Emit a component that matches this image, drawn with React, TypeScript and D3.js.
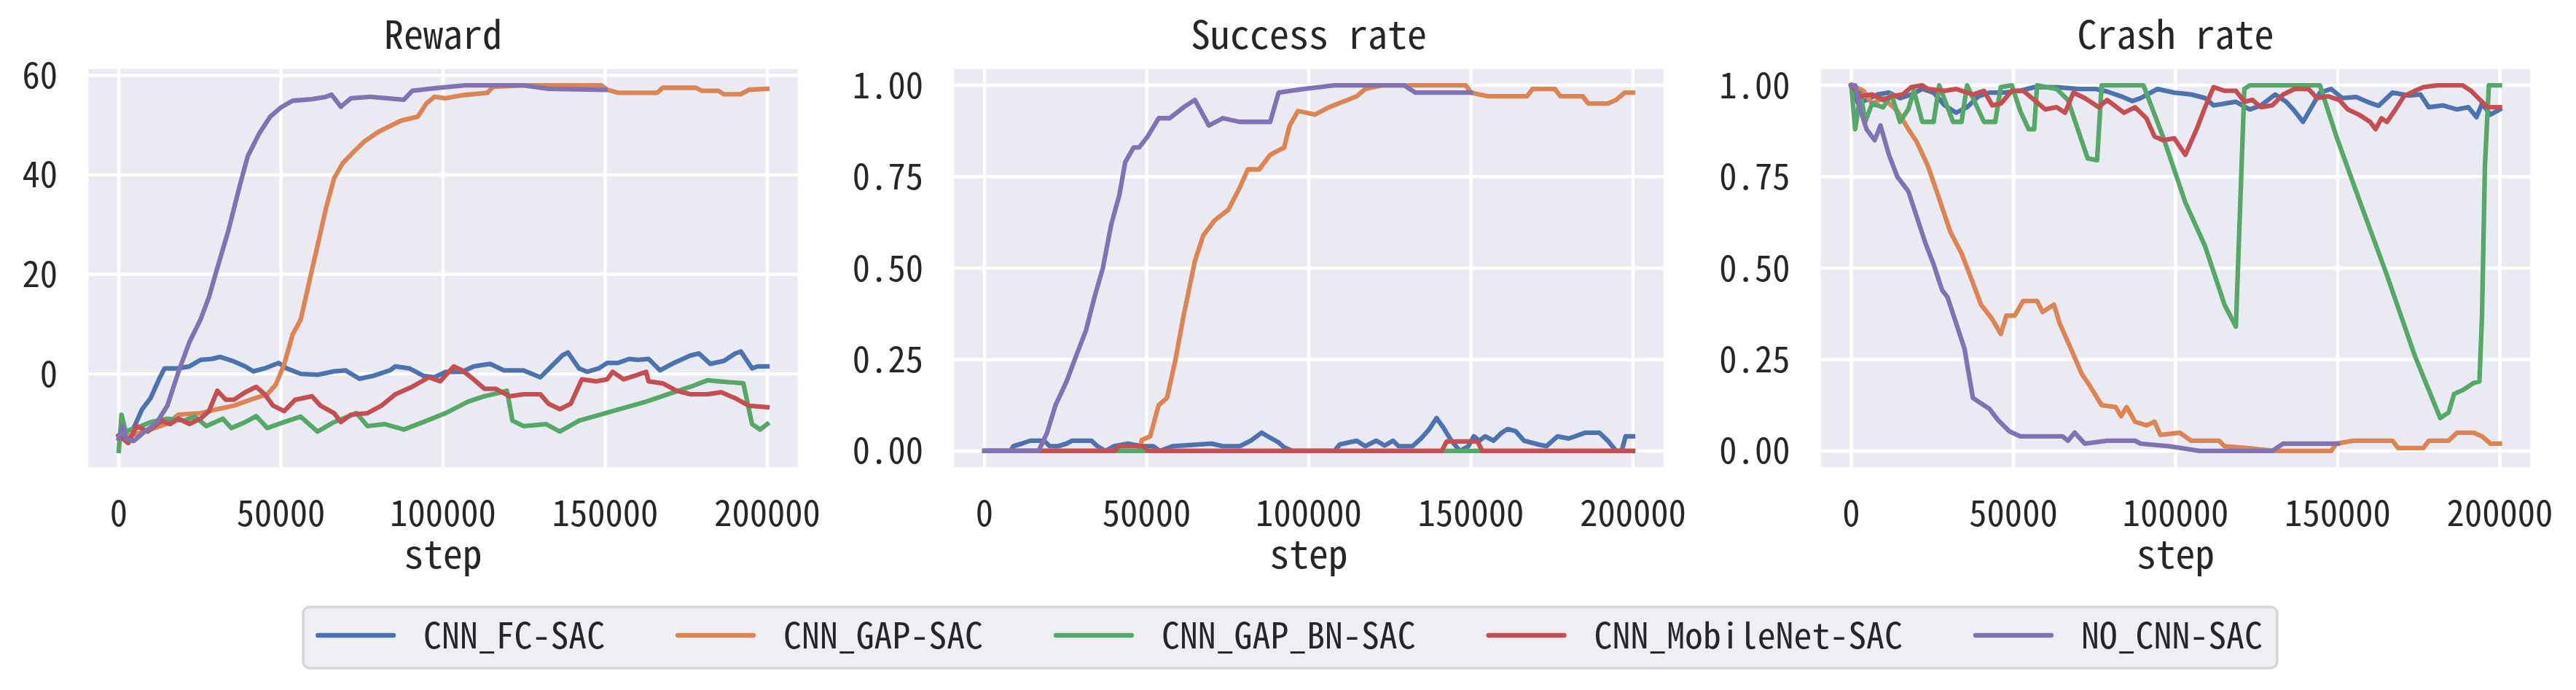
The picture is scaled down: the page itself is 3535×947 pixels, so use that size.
import * as d3 from 'd3'

type Pt = [number, number]

const SERIES = ['CNN_FC-SAC', 'CNN_GAP-SAC', 'CNN_GAP_BN-SAC', 'CNN_MobileNet-SAC', 'NO_CNN-SAC']
const COLORS = ['#4C72B0', '#DD8452', '#55A868', '#C44E52', '#8172B3']

const STEP_TICKS = [0, 50000, 100000, 150000, 200000]
const REWARD_TICKS = [0, 20, 40, 60]
const RATE_TICKS = [0, 0.25, 0.5, 0.75, 1]
const TITLES = ['Reward', 'Success rate', 'Crash rate']

// ---- Reward ----
const rewardFC: Pt[] = [[0, -12.4], [4600, -10.9], [7200, -7.1], [9800, -4.9], [12400, -1.1], [14100, 1.1], [18400, 1.1], [21800, 1.5], [25200, 2.8], [28700, 3.0], [31200, 3.4], [35500, 2.5], [39000, 1.5], [41500, 0.5], [45000, 1.1], [49300, 2.2], [51800, 1.1], [56100, 0], [61300, -0.2], [66400, 0.5], [69900, 0.7], [74200, -1.0], [78500, -0.4], [83600, 0.7], [85300, 1.5], [89600, 1.1], [93900, -0.4], [97300, -0.7], [100800, 0.4], [105900, 0.4], [109400, 1.5], [114500, 2.0], [118800, 0.7], [124800, 0.7], [130000, -0.7], [133400, 1.5], [136800, 3.7], [138500, 4.3], [141900, 1.1], [144500, 0.4], [148000, 1.1], [150600, 2.2], [154000, 2.2], [157400, 3.0], [160000, 2.8], [163400, 3.0], [166900, 0.7], [171200, 2.2], [176300, 3.7], [178900, 4.1], [182400, 2.0], [186600, 2.6], [190100, 4.1], [191800, 4.5], [195300, 1.1], [197000, 1.5], [200000, 1.5]]
const rewardGAP: Pt[] = [[0, -13], [8000, -11.6], [15000, -10], [18400, -8.2], [25200, -7.9], [30400, -7.1], [35500, -6.4], [40700, -5.2], [45800, -4.1], [48400, -2.2], [51000, 1.9], [53600, 7.9], [56100, 10.9], [58700, 18.4], [61300, 25.8], [63900, 33.3], [66400, 39.3], [69000, 42.3], [72400, 44.6], [75900, 46.8], [80200, 48.7], [83600, 49.8], [87000, 50.9], [92200, 51.7], [94800, 54.3], [97300, 55.7], [100800, 55.4], [105900, 56.0], [113700, 56.5], [115400, 57.7], [124800, 58.0], [148800, 58.0], [150600, 57.1], [154000, 56.5], [166000, 56.5], [167700, 57.5], [178000, 57.5], [179800, 56.9], [184900, 56.9], [186600, 56.2], [191800, 56.2], [194300, 57.1], [200000, 57.3]]
const rewardBN: Pt[] = [[0, -15.5], [860, -8.2], [2100, -11.6], [5500, -10.9], [9800, -9.7], [15000, -9.0], [20100, -9.4], [23500, -8.6], [27000, -10.5], [32100, -9.0], [34700, -10.9], [39000, -9.7], [42400, -8.5], [45800, -10.9], [51000, -9.7], [56100, -8.6], [61300, -11.6], [66400, -9.7], [73300, -7.9], [76700, -10.5], [81900, -10.1], [87900, -11.2], [93900, -9.7], [100800, -7.9], [107700, -5.6], [112800, -4.5], [118000, -3.7], [119700, -3.4], [121400, -9.4], [124800, -10.5], [131700, -10.1], [136000, -11.6], [142000, -9.4], [152300, -7.5], [162600, -5.6], [169400, -4.1], [176300, -2.6], [181500, -1.3], [184900, -1.5], [192600, -1.9], [195300, -10.1], [197800, -11.2], [200000, -10.1]]
const rewardMobile: Pt[] = [[0, -12.4], [2900, -13.9], [5500, -10.5], [8900, -11.6], [13200, -9.4], [15800, -10.1], [18400, -9.0], [21800, -10.1], [25200, -9.0], [27800, -7.5], [30400, -3.4], [33000, -5.2], [35500, -5.2], [39000, -3.7], [42400, -2.6], [45000, -4.1], [47600, -6.4], [51000, -7.5], [54400, -5.2], [59600, -4.5], [62200, -6.4], [66400, -7.9], [68500, -9.7], [71600, -8.2], [76700, -7.9], [81000, -6.4], [85300, -4.1], [90500, -2.6], [95600, -0.7], [99100, -1.5], [103300, 1.5], [105900, 0.7], [109400, -1.1], [112800, -3.0], [116200, -3.0], [120500, -4.5], [124800, -4.1], [130000, -4.1], [132500, -6.0], [136000, -7.1], [139400, -6.0], [142800, -1.1], [147200, -1.5], [150600, -1.1], [152300, 0.4], [155700, -1.1], [159100, -0.4], [162600, 0.4], [163400, -1.5], [167700, -1.9], [172000, -3.4], [176300, -4.1], [181500, -4.1], [185800, -3.7], [190100, -4.9], [194300, -6.4], [200000, -6.7]]
const rewardNoCNN: Pt[] = [[0, -13], [1200, -10.5], [2400, -13.2], [4600, -13.5], [8000, -11.6], [11500, -10], [15000, -6.4], [18400, 0.4], [21800, 6.4], [25200, 10.9], [27800, 15.4], [30400, 21.3], [33800, 28.8], [37300, 37.8], [39800, 43.8], [43300, 48.3], [46700, 51.7], [50100, 53.6], [53600, 54.9], [59600, 55.2], [63900, 55.7], [65600, 56.1], [68500, 53.7], [71600, 55.4], [77600, 55.7], [87900, 55.1], [90500, 56.9], [97300, 57.4], [106800, 58.0], [124800, 58.0], [132500, 57.3], [150000, 57.1]]

// ---- Success rate ----
const successFC: Pt[] = [[0, 0], [8000, 0], [8900, 0.013], [11500, 0.02], [14100, 0.028], [18400, 0.028], [20100, 0.013], [22700, 0.013], [25300, 0.02], [27000, 0.028], [33000, 0.028], [34800, 0.013], [37300, 0], [39900, 0.013], [44200, 0.02], [48500, 0.013], [52000, 0.013], [54000, 0], [58000, 0.013], [70000, 0.02], [73500, 0.013], [78700, 0.013], [82100, 0.028], [85500, 0.05], [87300, 0.04], [90700, 0.023], [92400, 0.01], [95000, 0], [107900, 0], [109600, 0.018], [114800, 0.028], [117400, 0.013], [120800, 0.028], [123400, 0.015], [126000, 0.028], [127700, 0.013], [132000, 0.013], [134600, 0.034], [137200, 0.06], [139400, 0.09], [141500, 0.064], [144000, 0.028], [146600, 0], [149200, 0.013], [150900, 0.04], [152600, 0.028], [154400, 0.04], [157000, 0.028], [159500, 0.05], [161300, 0.06], [163800, 0.054], [166400, 0.028], [170700, 0.018], [173300, 0.013], [176700, 0.04], [180200, 0.034], [185300, 0.05], [189600, 0.05], [192200, 0.028], [194800, 0], [196500, 0], [197700, 0.04], [200000, 0.04]]
const successGAP: Pt[] = [[0, 0], [47700, 0], [48500, 0.03], [51100, 0.04], [53700, 0.125], [56300, 0.145], [58900, 0.25], [61400, 0.37], [64900, 0.52], [67500, 0.59], [70900, 0.63], [75200, 0.66], [78700, 0.72], [81200, 0.77], [84700, 0.77], [88100, 0.81], [92400, 0.83], [94100, 0.89], [96700, 0.93], [101900, 0.92], [106200, 0.94], [114800, 0.97], [117400, 0.99], [122500, 1.0], [148400, 1.0], [150100, 0.98], [155200, 0.97], [167300, 0.97], [169000, 0.99], [175900, 0.99], [177600, 0.97], [184500, 0.97], [186200, 0.95], [192200, 0.95], [194800, 0.96], [197400, 0.98], [200000, 0.98]]
const successBN: Pt[] = [[0, 0], [200000, 0]]
const successMobile: Pt[] = [[0, 0], [40000, 0], [41500, 0.013], [49000, 0.013], [50500, 0], [141000, 0], [142500, 0.026], [152000, 0.026], [153500, 0], [200000, 0]]
const successNoCNN: Pt[] = [[0, 0], [16700, 0], [19300, 0.05], [21900, 0.125], [25300, 0.19], [28700, 0.27], [31300, 0.33], [33900, 0.42], [36500, 0.5], [39100, 0.62], [41600, 0.7], [43400, 0.79], [46000, 0.83], [47700, 0.83], [50300, 0.86], [53700, 0.91], [57100, 0.91], [61400, 0.94], [64900, 0.96], [69200, 0.89], [73500, 0.91], [78700, 0.9], [88100, 0.9], [90700, 0.98], [98400, 0.99], [107900, 1.0], [129400, 1.0], [132900, 0.98], [150000, 0.98]]

// ---- Crash rate ----
const crashFC: Pt[] = [[0, 1.0], [2100, 0.95], [4700, 0.96], [8100, 0.975], [11600, 0.98], [15000, 0.965], [18500, 0.975], [21900, 0.99], [25400, 0.98], [28800, 0.945], [32300, 0.925], [35700, 0.94], [39200, 0.97], [42600, 0.98], [46900, 0.98], [52100, 0.985], [56400, 0.995], [63300, 0.995], [70200, 0.99], [75400, 0.99], [78900, 0.983], [83200, 0.97], [86600, 0.957], [89200, 0.965], [94400, 0.99], [99600, 0.98], [104800, 0.975], [109100, 0.965], [111700, 0.945], [115100, 0.95], [118600, 0.955], [122900, 0.934], [126300, 0.945], [130700, 0.975], [134100, 0.955], [136700, 0.93], [139300, 0.9], [141900, 0.94], [144500, 0.98], [148000, 0.99], [151400, 0.965], [155700, 0.968], [159100, 0.955], [162600, 0.944], [166900, 0.98], [172100, 0.972], [175500, 0.975], [178100, 0.94], [182500, 0.945], [186800, 0.934], [190300, 0.94], [192800, 0.913], [194500, 0.95], [197100, 0.92], [200000, 0.934]]
const crashGAP: Pt[] = [[0, 1.0], [3800, 0.985], [6400, 0.95], [9800, 0.965], [14200, 0.93], [17600, 0.88], [20200, 0.845], [23600, 0.78], [27100, 0.69], [30500, 0.6], [34000, 0.54], [37500, 0.46], [40000, 0.4], [43500, 0.36], [46100, 0.32], [47800, 0.37], [50400, 0.37], [53000, 0.41], [57300, 0.41], [59000, 0.38], [62500, 0.4], [64200, 0.35], [67700, 0.28], [71100, 0.21], [73700, 0.176], [77200, 0.125], [81500, 0.12], [83200, 0.095], [84900, 0.12], [87500, 0.08], [91000, 0.07], [93500, 0.08], [95300, 0.044], [101300, 0.05], [104800, 0.028], [113400, 0.028], [115100, 0.013], [122000, 0.008], [130700, 0], [148000, 0], [149600, 0.02], [154800, 0.028], [166900, 0.028], [168600, 0.008], [176400, 0.008], [178100, 0.028], [184200, 0.028], [186800, 0.05], [191900, 0.05], [194500, 0.04], [197100, 0.02], [200000, 0.02]]
const crashBN: Pt[] = [[0, 1.0], [1200, 0.88], [2900, 0.98], [4300, 0.9], [6400, 0.95], [9800, 0.94], [12400, 0.975], [15000, 0.9], [17600, 0.935], [19300, 0.985], [21900, 0.9], [25400, 0.9], [27100, 1.0], [31400, 0.9], [34000, 0.9], [35700, 1.0], [40900, 0.9], [44400, 0.9], [46100, 0.995], [49500, 1.0], [52100, 0.93], [54700, 0.88], [56400, 0.88], [57300, 1.0], [63300, 0.99], [66800, 0.96], [72900, 0.8], [75800, 0.795], [77200, 1.0], [90100, 1.0], [96100, 0.86], [103000, 0.68], [109100, 0.56], [115100, 0.4], [118600, 0.34], [121200, 0.99], [122900, 1.0], [144500, 1.0], [149600, 0.86], [156500, 0.69], [165200, 0.48], [173800, 0.26], [181600, 0.09], [184200, 0.105], [185900, 0.156], [188500, 0.166], [191900, 0.186], [193700, 0.19], [194500, 0.37], [195400, 0.78], [196600, 1.0], [200000, 1.0]]
const crashMobile: Pt[] = [[0, 1.0], [2900, 0.97], [6400, 0.975], [9800, 0.96], [12400, 0.97], [15900, 0.975], [18500, 0.995], [21900, 1.0], [23600, 0.99], [28800, 0.985], [32300, 0.99], [37500, 0.975], [40900, 0.985], [43500, 0.945], [46100, 0.95], [49500, 0.985], [53000, 0.985], [56400, 0.96], [59800, 0.934], [63300, 0.94], [65900, 0.925], [68500, 0.98], [72000, 0.965], [76300, 0.94], [78900, 0.96], [84100, 0.925], [87500, 0.94], [91000, 0.91], [93500, 0.86], [96100, 0.85], [99600, 0.855], [103000, 0.81], [106500, 0.88], [109100, 0.94], [111700, 0.995], [115100, 0.985], [118600, 0.985], [121200, 0.955], [123700, 0.96], [126300, 0.94], [129800, 0.945], [133200, 0.975], [136700, 0.99], [141000, 0.99], [143600, 0.965], [147100, 0.97], [150500, 0.96], [153100, 0.934], [156500, 0.92], [160000, 0.9], [161700, 0.88], [163500, 0.91], [165200, 0.9], [167800, 0.934], [170400, 0.97], [173800, 0.985], [176400, 0.995], [180700, 1.0], [188500, 1.0], [191100, 0.985], [194500, 0.955], [196300, 0.94], [200000, 0.94]]
const crashNoCNN: Pt[] = [[0, 1.0], [1200, 1.0], [2900, 0.93], [4700, 0.88], [7200, 0.85], [9000, 0.89], [11600, 0.81], [14200, 0.75], [17600, 0.71], [20200, 0.64], [22800, 0.57], [25400, 0.51], [28000, 0.44], [29700, 0.42], [32300, 0.35], [34900, 0.28], [37500, 0.145], [40000, 0.13], [42600, 0.115], [45200, 0.085], [48700, 0.054], [52100, 0.04], [65100, 0.04], [66800, 0.028], [68900, 0.05], [72000, 0.02], [78900, 0.028], [87500, 0.028], [89200, 0.02], [97900, 0.013], [107400, 0], [129800, 0], [133200, 0.02], [150000, 0.02]]

const REWARD = [rewardFC, rewardGAP, rewardBN, rewardMobile, rewardNoCNN]
const SUCCESS = [successFC, successGAP, successBN, successMobile, successNoCNN]
const CRASH = [crashFC, crashGAP, crashBN, crashMobile, crashNoCNN]

const W = 3535
const H = 947
const FONT = '"Noto Sans Mono CJK SC", "Noto Sans CJK SC", "DejaVu Sans Mono", monospace'
const TXT = '#262626'
const BG = '#EAEAF2'
const TOP = 92
const BOTTOM = 644
const AX_W = 979
const LEFTS = [118.5, 1306.5, 2496]
const TICK_FS = 48.6
const TICK_CW = 24.3
const LABEL_FS = 53
const LABEL_CW = 26.8

function Panel({ left, title, data, ticks, fmt }: { left: number; title: string; data: Pt[][]; ticks: number[]; fmt: (v: number) => string }) {
  const x = d3.scaleLinear().domain([-10000, 210000]).range([left, left + AX_W])
  const all = data.flat().map(d => d[1])
  const lo = d3.min(all) as number
  const hi = d3.max(all) as number
  const pad = (hi - lo) * 0.05
  const y = d3.scaleLinear().domain([lo - pad, hi + pad]).range([BOTTOM, TOP])
  const line = d3.line<Pt>().x(d => x(d[0])).y(d => y(d[1]))
  const cx = left + AX_W / 2

  return (
    <g>
      <rect x={left} y={TOP} width={AX_W} height={BOTTOM - TOP} fill={BG} />
      {STEP_TICKS.map(t => (
        <line key={'gx' + t} x1={x(t)} x2={x(t)} y1={TOP} y2={BOTTOM} stroke="#fff" strokeWidth={4.4} />
      ))}
      {ticks.map(t => (
        <line key={'gy' + t} x1={left} x2={left + AX_W} y1={y(t)} y2={y(t)} stroke="#fff" strokeWidth={4.4} />
      ))}
      {data.map((s, i) => (
        <path key={i} d={line(s) ?? ''} fill="none" stroke={COLORS[i]} strokeWidth={6.3} strokeLinejoin="round" strokeLinecap="square" />
      ))}
      <rect x={left} y={TOP} width={AX_W} height={BOTTOM - TOP} fill="none" stroke="#fff" strokeWidth={5.5} />
      {STEP_TICKS.map(t => {
        const s = String(t)
        return (
          <text key={'tx' + t} x={x(t)} y={722} textAnchor="middle" fontSize={TICK_FS} fill={TXT}
            textLength={s.length * TICK_CW} lengthAdjust="spacingAndGlyphs">{s}</text>
        )
      })}
      {ticks.map(t => {
        const s = fmt(t)
        return (
          <text key={'ty' + t} x={left - 39.5} y={y(t) + 17.5} textAnchor="end" fontSize={TICK_FS} fill={TXT}
            textLength={s.length * TICK_CW} lengthAdjust="spacingAndGlyphs">{s}</text>
        )
      })}
      <text x={cx} y={67} textAnchor="middle" fontSize={LABEL_FS} fill={TXT}
        textLength={title.length * 27} lengthAdjust="spacingAndGlyphs">{title}</text>
      <text x={cx} y={780} textAnchor="middle" fontSize={LABEL_FS} fill={TXT}
        textLength={4 * LABEL_CW} lengthAdjust="spacingAndGlyphs">step</text>
    </g>
  )
}

function Legend() {
  const cw = 24.9
  const handle = 104
  const tpad = 41
  const colsp = 100
  const edge = 20
  const widths = SERIES.map(s => handle + tpad + s.length * cw)
  const total = edge * 2 + d3.sum(widths) + colsp * (SERIES.length - 1)
  const x0 = 1770.5 - total / 2
  const cy = 872
  let cur = x0 + edge
  const items = SERIES.map((s, i) => {
    const start = cur
    cur += widths[i] + colsp
    return (
      <g key={s}>
        <line x1={start} x2={start + handle} y1={cy} y2={cy} stroke={COLORS[i]} strokeWidth={6.3} strokeLinecap="round" />
        <text x={start + handle + tpad} y={cy + 17.5} fontSize={TICK_FS} fill={TXT}
          textLength={s.length * cw} lengthAdjust="spacingAndGlyphs">{s}</text>
      </g>
    )
  })
  return (
    <g>
      <rect x={x0} y={833} width={total} height={84} rx={9} fill="#EEEEF5" stroke="#D5D5D8" strokeWidth={3.5} />
      {items}
    </g>
  )
}

export default function App() {
  const fmtRate = (v: number) => v.toFixed(2)
  const fmtInt = (v: number) => String(v)
  return (
    <svg width={W} height={H} style={{ position: 'absolute', left: 0, top: 0, background: '#fff' }} fontFamily={FONT}>
      <Panel left={LEFTS[0]} title={TITLES[0]} data={REWARD} ticks={REWARD_TICKS} fmt={fmtInt} />
      <Panel left={LEFTS[1]} title={TITLES[1]} data={SUCCESS} ticks={RATE_TICKS} fmt={fmtRate} />
      <Panel left={LEFTS[2]} title={TITLES[2]} data={CRASH} ticks={RATE_TICKS} fmt={fmtRate} />
      <Legend />
    </svg>
  )
}
